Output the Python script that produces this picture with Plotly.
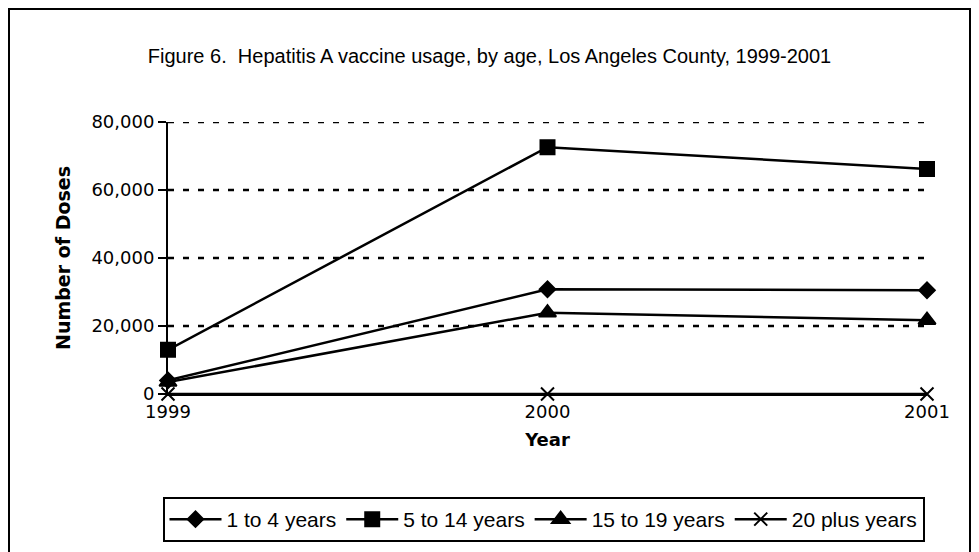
import plotly.graph_objects as go

years = [1999, 2000, 2001]
series_names = ["1 to 4 years", "5 to 14 years", "15 to 19 years", "20 plus years"]
age_1_4 = [4000, 30800, 30500]
age_5_14 = [13000, 72600, 66200]
age_15_19 = [3500, 23900, 21700]
age_20_plus = [0, 0, 0]
y_ticks = [0, 20000, 40000, 60000, 80000]
x_ticks = [1999, 2000, 2001]

values = [age_1_4, age_5_14, age_15_19, age_20_plus]
symbols = ["diamond", "square", "triangle-up", "x-thin"]
sizes = [12, 14, 15, 13]

# page body has an 8px offset; figure coordinates below are relative to it
W, H = 963, 544
L, R, T, B = 160, 919, 114, 386

fig = go.Figure()
for name, vals, sym, sz in zip(series_names, values, symbols, sizes):
    fig.add_trace(go.Scatter(
        x=years, y=vals, name=name, mode="lines+markers",
        line=dict(color="black", width=2.5),
        marker=dict(symbol=sym, size=sz, color="black",
                    line=dict(color="black", width=2)),
        cliponaxis=False,
    ))

pw = R - L
ph = B - T
def px_x(p):
    return (p - L) / pw
def px_y(p):
    return (B - p) / ph

shapes = [dict(type="rect", xref="paper", yref="paper",
               x0=px_x(1), x1=px_x(W - 1), y0=px_y(H + 20), y1=px_y(1),
               line=dict(color="black", width=2), fillcolor="rgba(0,0,0,0)",
               layer="below")]
for v in y_ticks[1:]:
    shapes.append(dict(type="line", xref="paper", yref="y", x0=0, x1=1, y0=v, y1=v,
                       line=dict(color="black", width=2.5, dash="6px,9px"), layer="below"))

fig.update_layout(
    width=W, height=H,
    margin=dict(l=L, r=W - R, t=T, b=H - B, pad=0, autoexpand=False),
    paper_bgcolor="white", plot_bgcolor="white",
    font=dict(family="DejaVu Sans", color="black", size=18),
    title=dict(text="Figure 6.&nbsp; Hepatitis A vaccine usage, by age, Los Angeles County, 1999-2001",
               x=0.5, xref="container", y=1 - 48 / H, yanchor="middle",
               font=dict(family="Liberation Sans, Arial, sans-serif", size=20)),
    xaxis=dict(range=[1999, 2001], tickvals=x_ticks, ticktext=[str(x) for x in x_ticks],
               showgrid=False, zeroline=False, showline=True, linecolor="black", linewidth=2,
               ticks="", ticklen=0,
               title=dict(text="<b>Year</b>", standoff=13, font=dict(size=18))),
    yaxis=dict(range=[0, 80000], tickvals=y_ticks, tickformat=",",
               showgrid=False, zeroline=False, showline=True, linecolor="black", linewidth=2,
               ticks="outside", ticklen=8, tickwidth=2, tickcolor="black",
               title=dict(text="<b>Number of Doses</b>", standoff=16, font=dict(size=19))),
    legend=dict(orientation="h", xref="container", yref="container",
                x=((145 + 942) / 2 - 8) / W, xanchor="center",
                y=1 - 489 / H, yanchor="top",
                bordercolor="black", borderwidth=2, bgcolor="white",
                font=dict(family="Liberation Sans, Arial, sans-serif", size=21),
                itemwidth=52, traceorder="normal"),
    shapes=shapes,
    showlegend=True,
)

fig.write_html("out.html")
